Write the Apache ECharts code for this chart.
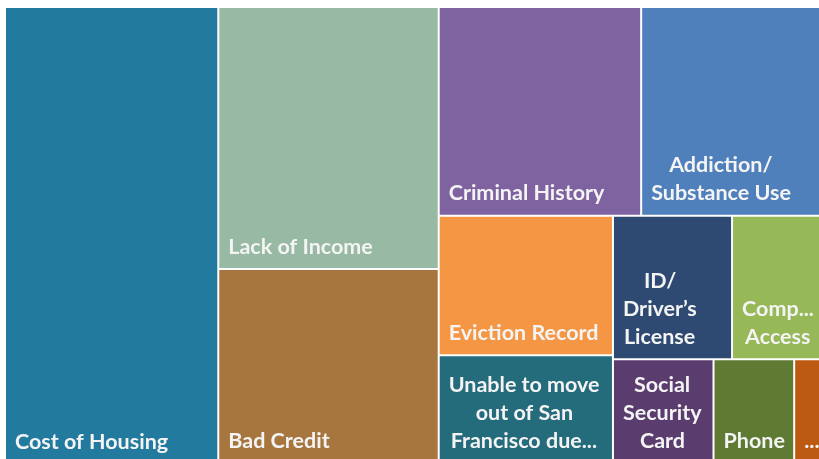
<!DOCTYPE html>
<html>
<head>
<meta charset="utf-8">
<script src="https://cdn.jsdelivr.net/npm/echarts@6/dist/echarts.min.js"></script>
<style>
html,body{margin:0;padding:0;background:#fff;}
#chart{width:819px;height:459px;}
</style>
</head>
<body>
<div id="chart"></div>
<script>
// Categories (display labels, line breaks as shown) and values
const categories = [
  "Cost of Housing",
  "Lack of Income",
  "Bad Credit",
  "Criminal History",
  "Addiction/\nSubstance Use",
  "Eviction Record",
  "Unable to move\nout of San\nFrancisco due...",
  "ID/\nDriver’s\nLicense",
  "Comp...\nAccess",
  "Social\nSecurity\nCard",
  "Phone",
  "..."
];
const values = [257, 152.3, 113.3, 111.5, 104, 64, 50, 45, 37, 27.8, 22.3, 9.9];
const colors = [
  "#237a9f", "#98b9a3", "#a6763e", "#7f63a0", "#4f80bb", "#f59645",
  "#246b7c", "#2e4a72", "#97b857", "#5a3c6f", "#5e7a33", "#bd5a12"
];

const FONT_FAMILY = "Lato";
const FONT_SIZE = 21.5;
const LINE_H = 28;
const PAD_B = 6;
const PAD_L = 9;
const ctx = document.createElement("canvas").getContext("2d");
ctx.font = "bold " + FONT_SIZE + "px " + FONT_FAMILY;

const baseTok = {
  fontFamily: FONT_FAMILY, fontWeight: "bold", fontSize: FONT_SIZE,
  lineHeight: LINE_H, color: "#f4f4f4"
};
const rich = {};
function buildLabel(text) {
  const lines = text.split("\n");
  const widths = lines.map(l => ctx.measureText(l).width);
  const maxW = Math.max.apply(null, widths);
  return lines.map((l, i) => {
    const off = Math.round((maxW - widths[i]) / 2);
    const key = "p" + off;
    if (!rich[key]) rich[key] = Object.assign({}, baseTok, {padding: [0, 0, 0, off]});
    return "{" + key + "|" + l + "}";
  }).join("\n");
}

const data = categories.map((c, i) => ({
  name: c,
  value: values[i],
  itemStyle: {color: colors[i]},
  label: {formatter: buildLabel(c), padding: [0, 0, PAD_B, PAD_L]}
}));

const chart = echarts.init(document.getElementById("chart"), null, {renderer: "canvas"});
chart.setOption({
  backgroundColor: "#ffffff",
  animation: false,
  tooltip: {show: false},
  series: [{
    type: "treemap",
    left: 6, top: 8, width: 823, height: 455,
    squareRatio: 0.88,
    sort: "desc",
    roam: false,
    nodeClick: false,
    breadcrumb: {show: false},
    itemStyle: {borderWidth: 0, gapWidth: 2, borderColor: "#ffffff"},
    levels: [{itemStyle: {borderWidth: 0, gapWidth: 2, borderColor: "#ffffff"}}],
    label: {
      show: true,
      position: "insideTopLeft",
      distance: 0,
      align: "left",
      overflow: "none",
      fontFamily: FONT_FAMILY, fontWeight: "bold", fontSize: FONT_SIZE,
      lineHeight: LINE_H, color: "#f4f4f4",
      rich: rich
    },
    data: data
  }]
});

// Second pass: push each label block to the bottom of its cell using the
// cell sizes computed by the treemap layout.
const sData = chart.getModel().getSeriesByIndex(0).getData();
for (let k = 0; k < sData.count(); k++) {
  const idx = categories.indexOf(sData.getName(k));
  const lay = sData.getItemLayout(k);
  if (idx < 0 || !lay) continue;
  const nLines = categories[idx].split("\n").length;
  const padTop = Math.max(0, Math.floor(lay.height - PAD_B - nLines * LINE_H) - 1);
  data[idx].label.padding = [padTop, 0, PAD_B - 1, PAD_L];
}
chart.setOption({series: [{data: data}]});
</script>
</body>
</html>
